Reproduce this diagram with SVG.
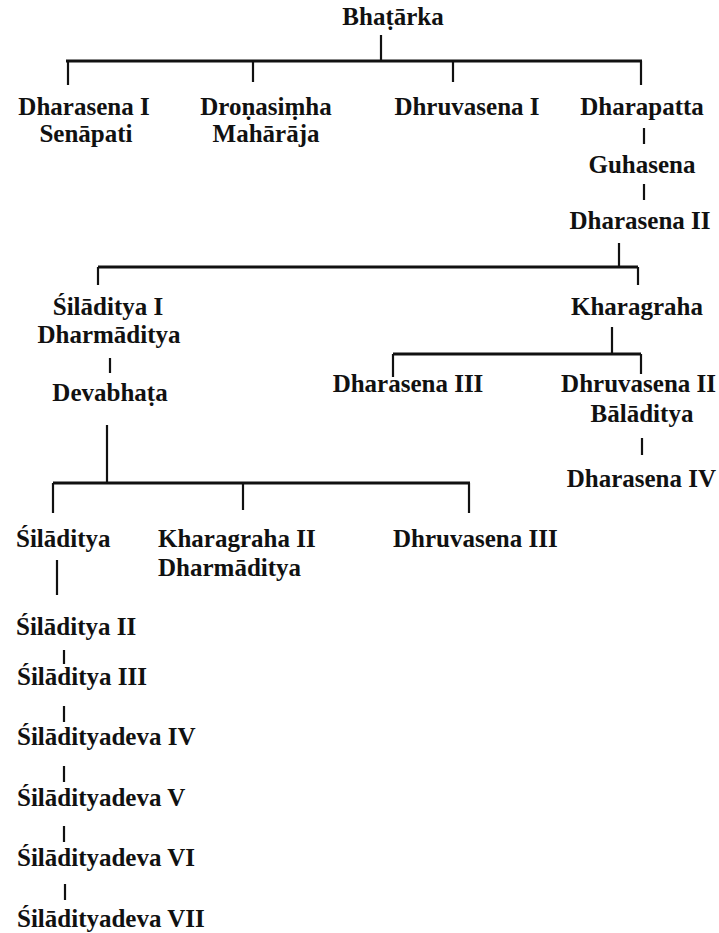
<svg xmlns="http://www.w3.org/2000/svg" width="719" height="933" viewBox="0 0 719 933">
  <style>
    text { font-family: "Liberation Serif", "Times New Roman", serif; font-weight: bold; font-size: 25px; fill: #111; }
    .c { text-anchor: middle; }
    .e { text-anchor: end; }
    .ln { stroke: #111; stroke-width: 2.2; fill: none; stroke-linecap: butt; }
    .bar { stroke: #111; stroke-width: 2.8; fill: none; }
  </style>
  <rect width="719" height="933" fill="#fff"/>

  <!-- connectors -->
  <g id="connectors">
    <!-- Bhatarka and his four sons -->
    <line class="ln" x1="381" y1="35" x2="381" y2="61"/>
    <line class="bar" x1="66" y1="61" x2="642" y2="61"/>
    <line class="ln" x1="68" y1="61" x2="68" y2="85"/>
    <line class="ln" x1="253" y1="61" x2="253" y2="82"/>
    <line class="ln" x1="453" y1="61" x2="453" y2="82"/>
    <line class="ln" x1="641" y1="61" x2="641" y2="85"/>
    <!-- Dharapatta line -->
    <line class="ln" x1="644" y1="128" x2="644" y2="144"/>
    <line class="ln" x1="644" y1="184" x2="644" y2="200"/>
    <!-- Dharasena II sons -->
    <line class="ln" x1="619" y1="243" x2="619" y2="267"/>
    <line class="bar" x1="98" y1="267" x2="638" y2="267"/>
    <line class="ln" x1="98" y1="267" x2="98" y2="285"/>
    <line class="ln" x1="638" y1="267" x2="638" y2="285"/>
    <!-- Siladitya I to Devabhata -->
    <line class="ln" x1="110" y1="358" x2="110" y2="373"/>
    <!-- Kharagraha sons -->
    <line class="ln" x1="612" y1="327" x2="612" y2="354"/>
    <line class="bar" x1="393" y1="354" x2="641" y2="354"/>
    <line class="ln" x1="393" y1="354" x2="393" y2="377"/>
    <line class="ln" x1="641" y1="354" x2="641" y2="374"/>
    <line class="ln" x1="642" y1="438" x2="642" y2="455"/>
    <!-- Devabhata sons -->
    <line class="ln" x1="107" y1="425" x2="107" y2="483"/>
    <line class="bar" x1="53" y1="483" x2="470" y2="483"/>
    <line class="ln" x1="53" y1="483" x2="53" y2="513"/>
    <line class="ln" x1="243" y1="483" x2="243" y2="510"/>
    <line class="ln" x1="469" y1="483" x2="469" y2="513"/>
    <!-- Siladitya chain -->
    <line class="ln" x1="57" y1="560" x2="57" y2="595" stroke-width="3"/>
    <line class="ln" x1="64" y1="650" x2="64" y2="664"/>
    <line class="ln" x1="64" y1="706" x2="64" y2="722"/>
    <line class="ln" x1="64" y1="766" x2="64" y2="782"/>
    <line class="ln" x1="64" y1="826" x2="64" y2="842"/>
    <line class="ln" x1="65" y1="884" x2="65" y2="900"/>
  </g>

  <!-- nodes -->
  <g id="bhatarka"><text class="c" x="393" y="25">Bhaṭārka</text></g>
  <g id="dharasena-1"><text class="c" x="84" y="115">Dharasena I</text><text class="c" x="86" y="142">Senāpati</text></g>
  <g id="dronasimha"><text class="c" x="266" y="115">Droṇasiṃha</text><text class="c" x="266" y="142">Mahārāja</text></g>
  <g id="dhruvasena-1"><text class="c" x="467" y="115">Dhruvasena I</text></g>
  <g id="dharapatta"><text class="c" x="642" y="115">Dharapatta</text></g>
  <g id="guhasena"><text class="c" x="642" y="173">Guhasena</text></g>
  <g id="dharasena-2"><text class="c" x="640" y="229">Dharasena II</text></g>
  <g id="siladitya-1"><text class="c" x="108" y="315">Śilāditya I</text><text class="c" x="109" y="343">Dharmāditya</text></g>
  <g id="devabhata"><text class="c" x="110" y="401">Devabhaṭa</text></g>
  <g id="kharagraha"><text class="c" x="637" y="315">Kharagraha</text></g>
  <g id="dharasena-3"><text class="c" x="408" y="392">Dharasena III</text></g>
  <g id="dhruvasena-2"><text class="e" x="716" y="392">Dhruvasena II</text><text class="c" x="642" y="422">Bālāditya</text></g>
  <g id="dharasena-4"><text class="e" x="716" y="487">Dharasena IV</text></g>
  <g id="siladitya"><text x="16" y="547">Śilāditya</text></g>
  <g id="kharagraha-2"><text x="158" y="547">Kharagraha II</text><text x="158" y="576">Dharmāditya</text></g>
  <g id="dhruvasena-3"><text x="393" y="547">Dhruvasena III</text></g>
  <g id="siladitya-2"><text x="16" y="635">Śilāditya II</text></g>
  <g id="siladitya-3"><text x="17" y="685">Śilāditya III</text></g>
  <g id="siladityadeva-4"><text x="17" y="745">Śilādityadeva IV</text></g>
  <g id="siladityadeva-5"><text x="17" y="806">Śilādityadeva V</text></g>
  <g id="siladityadeva-6"><text x="17" y="866">Śilādityadeva VI</text></g>
  <g id="siladityadeva-7"><text x="17" y="927">Śilādityadeva VII</text></g>
</svg>
